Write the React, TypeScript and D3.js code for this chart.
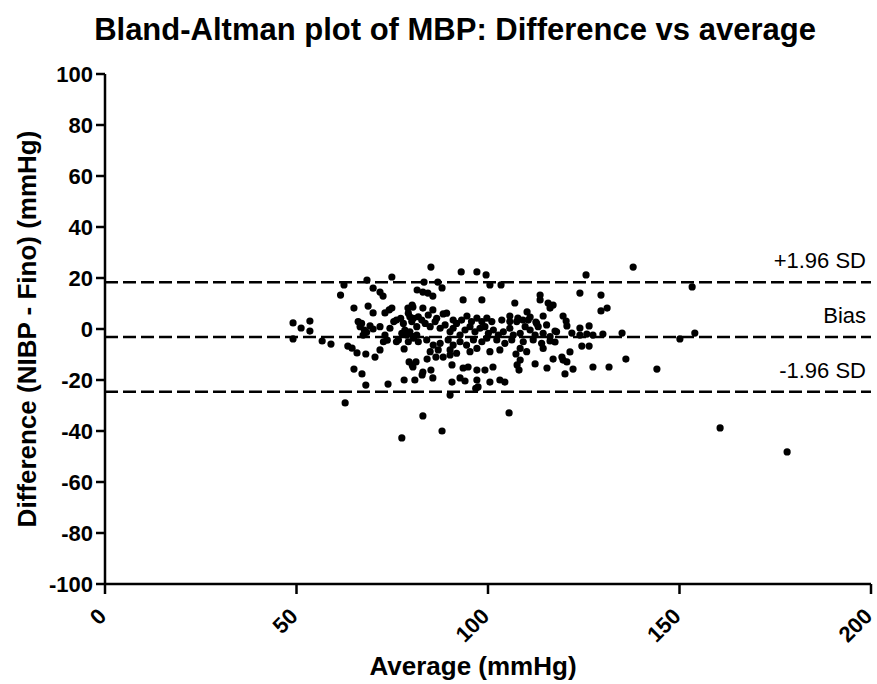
import React from "react";
import * as d3 from "d3";

const TITLE = "Bland-Altman plot of MBP: Difference vs average";
const X_LABEL = "Average (mmHg)";
const Y_LABEL = "Difference (NIBP - Fino) (mmHg)";
const X_TICKS = [0, 50, 100, 150, 200];
const Y_TICKS = [100, 80, 60, 40, 20, 0, -20, -40, -60, -80, -100];

// reference lines: value and label
const LINE_VALUES = [18.3, -3.1, -24.6];
const LINE_LABELS = ["+1.96 SD", "Bias", "-1.96 SD"];

// averages (mmHg)
const AVG = [
  62.4, 61.5, 68.4, 70.0, 71.8, 72.6, 74.9, 65.0, 68.7, 70.0, 73.1, 74.2, 74.9, 49.1, 51.2, 53.5, 53.5, 49.1, 56.7, 59.0,
  63.4, 64.5, 65.8, 68.1, 70.5, 71.8, 65.0, 67.1, 68.1, 73.9, 78.1, 80.9, 79.4, 80.4, 78.1, 62.7, 77.5, 79.1, 80.4, 81.5,
  66.1, 67.0, 66.6, 67.7, 67.4, 69.2, 68.3, 70.0, 71.8, 73.1, 72.7, 73.7, 74.4, 75.4, 76.1, 77.2, 77.9, 78.3, 77.5, 78.8,
  79.6, 80.5, 76.6, 76.1, 79.2, 81.4, 79.6, 80.5, 79.2,
  82.8, 108.1,
  85.1, 93.0, 97.1, 99.5, 100.5, 103.4, 83.3, 86.9, 88.0, 83.0, 84.3, 85.6, 93.5, 98.4, 107.0, 113.6, 113.6, 115.7, 117.0, 116.2,
  80.2, 83.0, 85.6, 88.3, 94.5, 97.1, 99.7, 105.7, 107.8, 110.2, 111.0, 109.1, 112.5, 114.4, 80.2, 81.2, 83.0, 85.1, 85.6, 84.1,
  86.4, 88.3, 90.1, 90.6, 93.5, 94.8, 97.1, 99.2, 101.3, 90.6, 92.7, 94.0, 97.1, 97.4, 96.8, 100.5, 103.1, 104.4, 90.1, 83.0,
  88.0, 105.5, 107.3, 108.4, 107.6, 112.3, 115.4, 117.0,
  80.1, 81.4, 82.7, 83.6, 84.9, 86.2, 87.5, 88.8, 90.1, 90.9, 91.8, 92.7, 94.0, 95.3, 96.6, 97.9, 99.2, 100.1, 101.4, 102.7,
  104.0, 105.7, 106.6, 108.4, 109.7, 111.0, 112.3, 113.1, 114.4, 116.2, 117.9, 80.5, 81.8, 84.0, 85.7, 87.5, 89.6, 90.9, 92.7, 94.4,
  96.2, 98.4, 99.7, 102.3, 104.4, 106.2, 109.2, 111.8, 114.0, 116.2, 84.9, 87.0, 90.1, 91.8, 95.3, 97.1, 100.5, 103.1, 108.4, 110.1,
  114.4, 81.8, 84.4, 86.6, 89.2, 90.9, 93.1, 95.7, 98.4, 101.0, 103.6, 105.7, 107.5, 110.5, 112.7, 115.3,
  137.9, 125.6, 124.0, 129.5, 131.1, 129.5, 153.3, 119.6, 120.4, 120.6, 124.0, 126.4, 117.5, 121.9, 124.0, 125.8, 127.4, 130.0, 135.0, 154.0,
  150.1, 117.5, 124.5, 126.4, 121.4, 119.3, 119.6, 120.6, 127.4, 131.6, 136.0, 144.1, 120.1, 122.2,
  160.6, 178.1,
];

// differences (mmHg)
const DIFF = [
  17.3, 13.3, 19.2, 16.0, 14.5, 12.9, 20.4, 8.2, 9.0, 6.3, 6.3, 7.5, 8.2, 2.4, 0.4, 3.1, -0.8, -3.9, -4.7, -5.9,
  -6.7, -7.5, -9.4, -9.8, -11.0, -8.2, -15.7, -17.6, -22.0, -21.6, -20.0, -20.0, -12.9, -14.9, -7.8, -29.0, -42.7, 8.2, 8.6, 15.3,
  2.9, 2.2, 0.9, -0.4, -2.4, 1.2, -1.3, 0.0, 0.9, -2.4, -5.0, -4.4, 0.3, 2.9, 3.5, 4.2, 2.2, -0.4, -1.7, -2.4,
  -1.1, -3.0, -4.3, -5.0, -5.0, -2.4, 4.8, 4.2, 6.2,
  -18.0, -16.1,
  24.3, 22.4, 22.4, 21.2, 17.3, 17.3, 18.4, 18.4, 16.1, 14.5, 14.1, 12.9, 11.4, 11.4, 10.2, 13.3, 11.4, 10.2, 9.4, 8.2,
  9.4, 8.2, 7.5, 5.9, 5.1, 4.3, 4.3, 5.1, 4.3, 6.7, 4.7, 3.5, 2.7, 5.1, -14.1, -12.9, -16.9, -16.1, -19.2, -11.8,
  -11.0, -11.0, -10.2, -14.1, -15.3, -14.9, -16.1, -16.1, -14.9, -20.8, -19.2, -20.4, -20.0, -22.7, -23.3, -20.8, -20.0, -20.8, -25.9, -34.1,
  -40.0, -32.9, -9.8, -12.2, -14.1, -13.7, -15.3, -11.8,
  2.9, 0.9, 3.5, 2.2, 0.9, 2.9, 0.3, 1.6, -1.1, 0.3, 2.2, -2.4, -0.4, 0.9, -1.1, 0.3, 0.9, -1.7, -0.4, -2.4,
  -1.1, 0.3, -2.4, -1.7, 0.9, -0.4, -2.4, 0.9, -1.7, -3.0, -1.1, -3.6, -5.0, -4.3, -6.3, -5.6, -4.3, -6.3, -5.0, -6.3,
  -4.3, -5.0, -3.6, -4.3, -5.6, -4.3, -5.0, -4.3, -5.6, -4.7, -8.9, -8.2, -8.2, -9.5, -8.9, -7.6, -8.9, -8.2, -7.6, -8.9,
  -7.6, 4.8, 5.5, 4.2, 6.2, 3.5, 3.5, 2.9, 2.9, 2.9, 3.5, 2.9, 2.9, 3.5, 2.2, 1.6,
  24.3, 21.2, 14.1, 13.3, 8.2, 7.1, 16.5, 5.1, 3.1, 1.2, 0.4, 1.2, -0.8, -1.6, -2.4, -2.0, -2.4, -2.0, -1.6, -1.6,
  -3.9, -5.1, -6.7, -6.7, -9.0, -11.0, -12.2, -12.9, -14.9, -14.9, -11.8, -15.7, -17.6, -15.7,
  -38.8, -48.2,
];

const W = 877;
const H = 684;
const M = { left: 105, right: 6, top: 74, bottom: 100 };
const FONT = "'Liberation Sans', Arial, sans-serif";

export default function App() {
  const x = d3.scaleLinear().domain([0, 200]).range([M.left, W - M.right]);
  const y = d3.scaleLinear().domain([-100, 100]).range([H - M.bottom, M.top]);
  const [x0, x1] = x.range();
  const [yb, yt] = y.range();
  const pts = AVG.map((a, i) => ({ a, d: DIFF[i] }));

  return (
    <svg width={W} height={H} style={{ display: "block", position: "absolute", left: 0, top: 0, background: "#fff" }}>
      <rect x={0} y={0} width={W} height={H} fill="#fff" />
      <text x={455} y={40} textAnchor="middle" fontFamily={FONT} fontWeight="bold" fontSize={31} fill="#000">
        {TITLE}
      </text>

      {/* reference lines */}
      {LINE_VALUES.map((v, i) => (
        <g key={"l" + i}>
          <line x1={x0} x2={x1} y1={y(v)} y2={y(v)} stroke="#000" strokeWidth={2.5} strokeDasharray="13,5" />
          <text x={866} y={y(v) - 14} textAnchor="end" fontFamily={FONT} fontSize={22} fill="#000">
            {LINE_LABELS[i]}
          </text>
        </g>
      ))}

      {/* points */}
      {pts.map((p, i) => (
        <circle key={i} cx={x(p.a)} cy={y(p.d)} r={3.6} fill="#000" />
      ))}

      {/* y axis */}
      <line x1={x0} x2={x0} y1={yt} y2={yb} stroke="#000" strokeWidth={2.5} />
      {Y_TICKS.map((t) => (
        <g key={"y" + t}>
          <line x1={x0 - 9} x2={x0} y1={y(t)} y2={y(t)} stroke="#000" strokeWidth={2.5} />
          <text x={x0 - 12} y={y(t)} dy="0.36em" textAnchor="end" fontFamily={FONT} fontWeight="bold" fontSize={22} fill="#000">
            {t}
          </text>
        </g>
      ))}

      {/* x axis */}
      <line x1={x0} x2={x1} y1={yb} y2={yb} stroke="#000" strokeWidth={2.5} />
      {X_TICKS.map((t) => (
        <g key={"x" + t}>
          <line x1={x(t)} x2={x(t)} y1={yb} y2={yb + 10} stroke="#000" strokeWidth={2.5} />
          <text
            transform={`translate(${x(t) - 3},${yb + 28}) rotate(-45)`}
            dy="0.36em"
            textAnchor="end"
            fontFamily={FONT}
            fontWeight="bold"
            fontSize={22}
            fill="#000"
          >
            {t}
          </text>
        </g>
      ))}

      <text x={473} y={675} textAnchor="middle" fontFamily={FONT} fontWeight="bold" fontSize={26} fill="#000">
        {X_LABEL}
      </text>
      <text
        transform={`translate(36,${(yt + yb) / 2}) rotate(-90)`}
        textAnchor="middle"
        fontFamily={FONT}
        fontWeight="bold"
        fontSize={26}
        fill="#000"
      >
        {Y_LABEL}
      </text>
    </svg>
  );
}
